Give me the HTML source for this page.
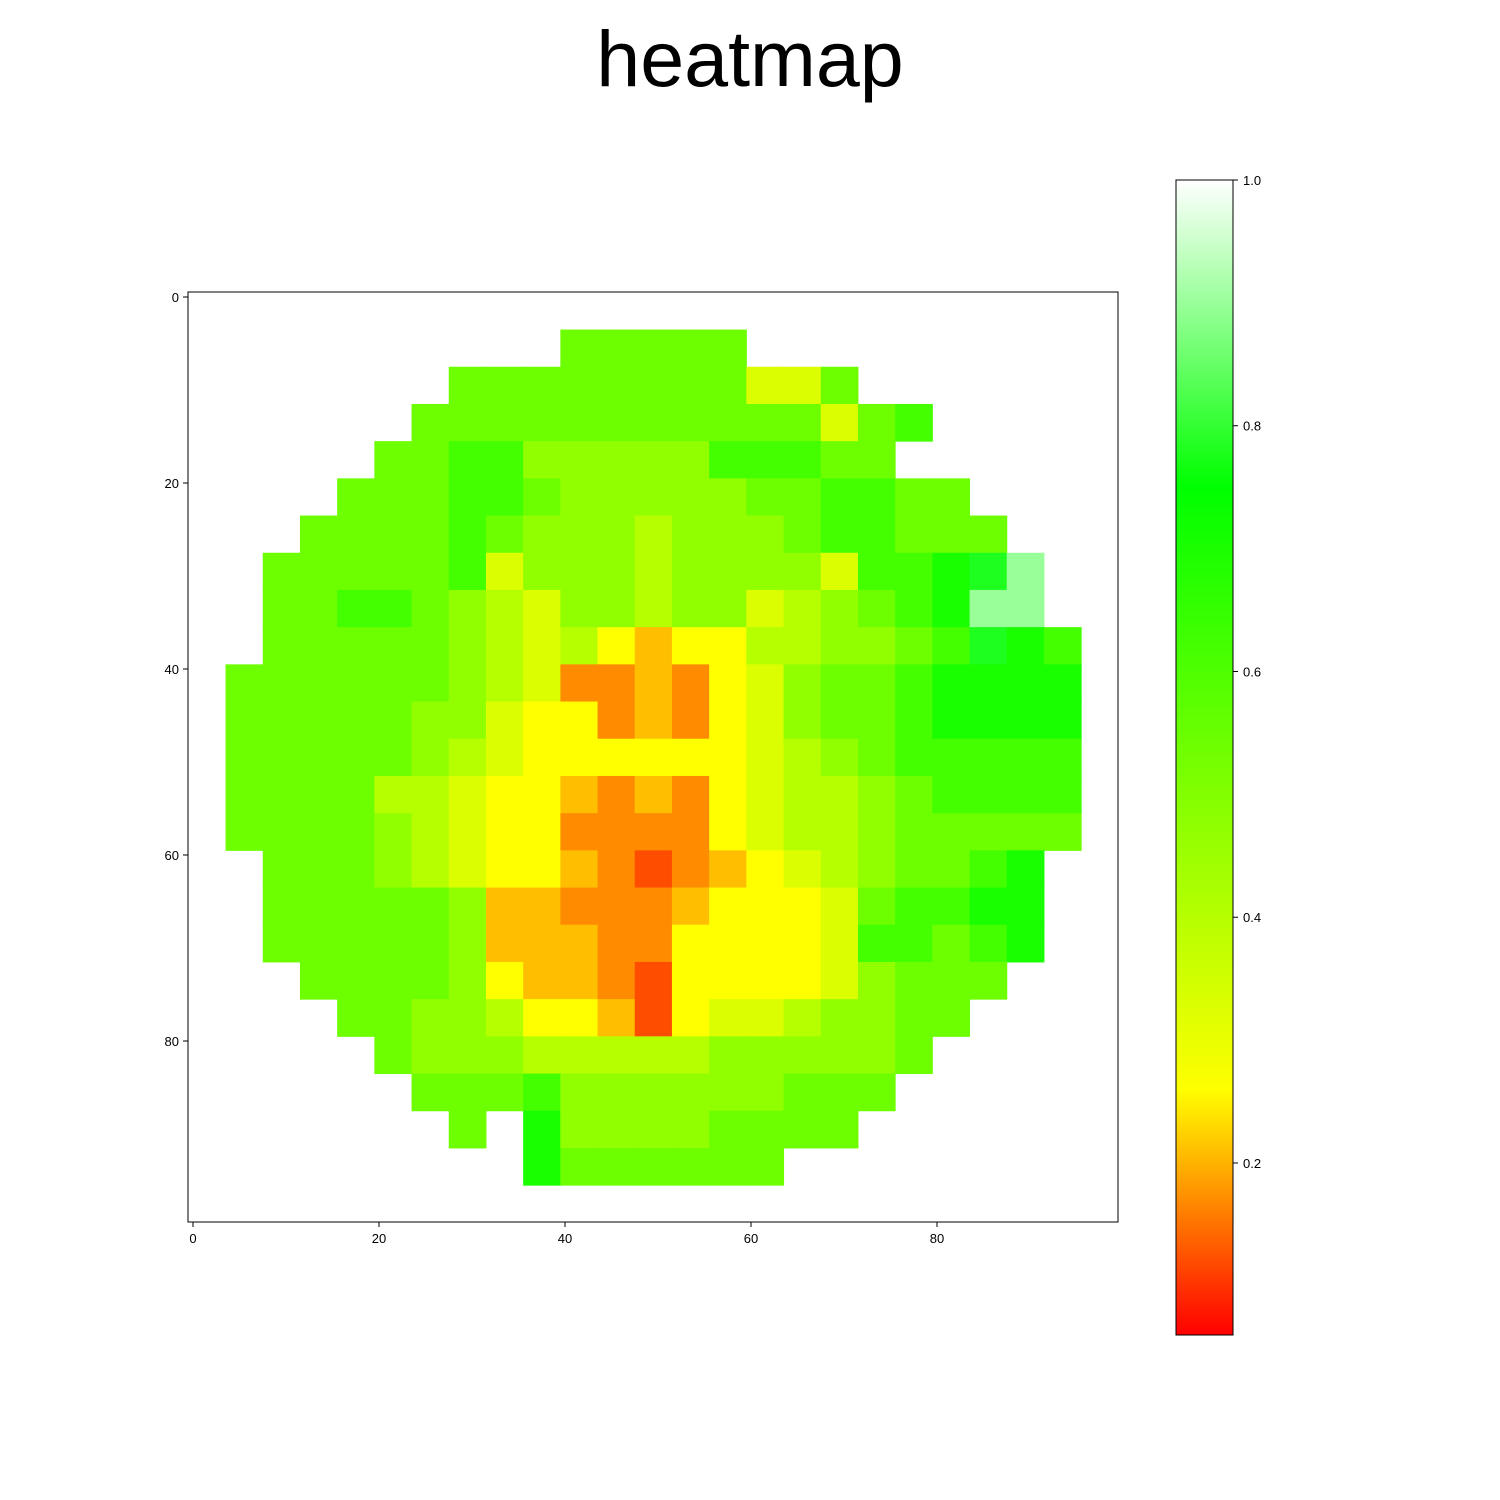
<!DOCTYPE html>
<html><head><meta charset="utf-8"><style>
body{margin:0;background:#fff;}
svg{display:block;font-family:"Liberation Sans",sans-serif;}
</style></head><body>
<svg id="chart" width="1500" height="1500" viewBox="0 0 1500 1500">
<text x="750" y="86" text-anchor="middle" font-size="79" fill="#000">heatmap</text>
<g id="cells"></g>
<rect x="188" y="292" width="930" height="930" fill="none" stroke="#000" stroke-width="1"/>
<g id="xaxis"></g>
<g id="yaxis"></g>
<defs><linearGradient id="cbg" x1="0" y1="1" x2="0" y2="0"></linearGradient></defs>
<rect x="1176" y="180" width="57" height="1155" fill="url(#cbg)" stroke="#000" stroke-width="1"/>
<g id="cbaxis"></g>
</svg>
<script>
// heatmap data: 25x25 blocks (each 4x4 cells of the 100x100 grid)
const codeValues = {a:0.06,b:0.12,c:0.17,d:0.21,e:0.26,f:0.33,g:0.40,h:0.47,i:0.54,j:0.62,k:0.70,l:0.78,m:0.90};
const rowStart = [0,10,7,6,5,4,3,2,2,2,1,1,1,1,1,2,2,2,3,4,5,6,7,9,25];
const rowCodes = [
"",
"iiiii",
"iiiiiiiiffi",
"iiiiiiiiiiifij",
"iijjhhhhhjjjii",
"iiijjihhhhhiijjii",
"iiiijihhhghhhijjiii",
"iiiiijfhhhghhhhfjjklm",
"iijjihgfhhghhfghijkmm",
"iiiiihgfgedeegghhijlkj",
"iiiiiihgfccdcefhiijkkkk",
"iiiiihhfeecdcefhiijkkkk",
"iiiiihgfeeeeeefghijjjjj",
"iiiiggfeedcdcefgghijjjj",
"iiiihgfeeccccefgghiiiii",
"iiihgfeedcbcdefghiijk",
"iiiiihddcccdeeefijjkk",
"iiiiihdddcceeeefjjijk",
"iiiiheddcbeeeefhiii",
"iihhgeedbeffghhii",
"ihhhggggghhhhhi",
"iiijhhhhhhiii",
"i.khhhhiiii",
"kiiiiii",
""
];
const xTicks = [0,20,40,60,80];
const yTicks = [0,20,40,60,80];
const cbTicks = [0.2,0.4,0.6,0.8,1.0];
const cbLabels = ["0.2","0.4","0.6","0.8","1.0"];
const cbStops = [0.06,0.26,0.75,1.0];
const cbMin = 0.06, cbMax = 1.0;

const NS="http://www.w3.org/2000/svg";
const px0=188.35, cell=9.3, py0=292.35;
function xs(v){return px0+cell*v;}
function ys(v){return py0+cell*v;}
function cbY(v){return 1335-(v-cbMin)/(cbMax-cbMin)*1155;}
function color(v){
  let r,g,b;
  if(v<0.26){const t=Math.max(0,(v-0.06)/0.2);r=255;g=255*t;b=0;}
  else if(v<0.75){const t=(v-0.26)/0.49;r=255*(1-t);g=255;b=0;}
  else{const t=Math.min(1,(v-0.75)/0.25);r=255*t;g=255;b=255*t;}
  return `rgb(${Math.round(r)},${Math.round(g)},${Math.round(b)})`;
}
const cellsG=document.getElementById('cells');
rowCodes.forEach((s,r)=>{
  for(let k=0;k<s.length;k++){
    const ch=s[k]; if(!(ch in codeValues)) continue;
    const c=rowStart[r]+k;
    const rect=document.createElementNS(NS,'rect');
    rect.setAttribute('x',xs(c*4));rect.setAttribute('y',ys(r*4));
    rect.setAttribute('width',cell*4+0.5);rect.setAttribute('height',cell*4+0.5);
    rect.setAttribute('fill',color(codeValues[ch]));
    
    
    cellsG.appendChild(rect);
  }
});
function line(g,x1,y1,x2,y2){const l=document.createElementNS(NS,'line');l.setAttribute('x1',x1);l.setAttribute('y1',y1);l.setAttribute('x2',x2);l.setAttribute('y2',y2);l.setAttribute('stroke','#000');g.appendChild(l);return l;}
function text(g,x,y,str,anchor){const t=document.createElementNS(NS,'text');t.setAttribute('x',x);t.setAttribute('y',y);t.setAttribute('font-size','13');t.setAttribute('text-anchor',anchor);t.textContent=str;g.appendChild(t);return t;}
const xg=document.getElementById('xaxis');
xTicks.forEach(v=>{const x=xs(v)+4.65;line(xg,x,1222,x,1227);
  const t=text(xg,x,1243,String(v),'middle');
  
  });
const yg=document.getElementById('yaxis');
yTicks.forEach(v=>{const y=ys(v)+4.65;line(yg,183,y,188,y);
  const t=text(yg,179,y+5,String(v),'end');
  
  });
const grad=document.getElementById('cbg');
cbStops.forEach(v=>{const s=document.createElementNS(NS,'stop');s.setAttribute('offset',(v-cbMin)/(cbMax-cbMin));s.setAttribute('stop-color',color(v));grad.appendChild(s);});
const cg=document.getElementById('cbaxis');
cbTicks.forEach((v,i)=>{const y=cbY(v);line(cg,1233,y,1238,y);
  const t=text(cg,1243,y+5,cbLabels[i],'start');
  
  });
</script>
</body></html>
